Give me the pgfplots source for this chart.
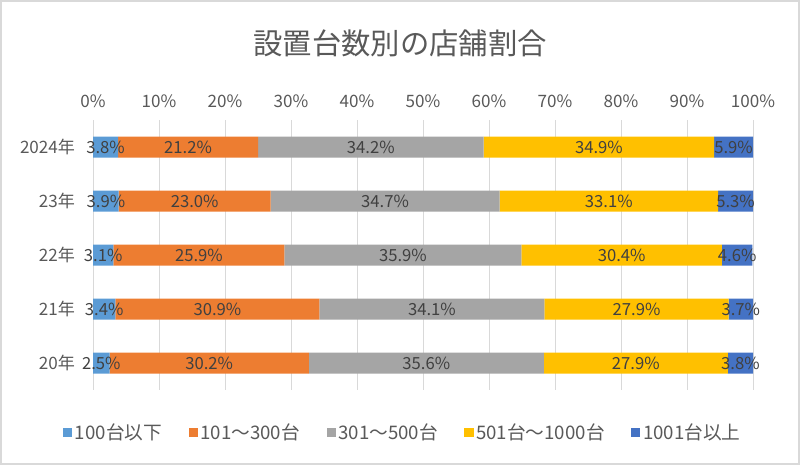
\documentclass[border=0pt]{standalone}
\usepackage{pgfplots}
\usepackage{pgfplotstable}
\pgfplotsset{compat=1.18}
\usepackage{fontspec}
\setmainfont{Noto Sans CJK JP}
\definecolor{c1}{HTML}{5B9BD5}
\definecolor{c2}{HTML}{ED7D31}
\definecolor{c3}{HTML}{A5A5A5}
\definecolor{c4}{HTML}{FFC000}
\definecolor{c5}{HTML}{4472C4}
\definecolor{gridc}{HTML}{D9D9D9}
\definecolor{txt}{HTML}{595959}
\definecolor{lab}{HTML}{404040}
\pgfplotstableread{
y a b c d e
0 3.8 21.2 34.2 34.9 5.9
1 3.9 23.0 34.7 33.1 5.3
2 3.1 25.9 35.9 30.4 4.6
3 3.4 30.9 34.1 27.9 3.7
4 2.5 30.2 35.6 27.9 3.8
}\datatable
\begin{document}
\begin{tikzpicture}
\path (0,0) rectangle (600pt,348.75pt);
\draw[gridc, line width=1.5pt] (0.75pt,0.75pt) rectangle (599.25pt,348pt);
\node[txt, font=\fontsize{22}{26}\selectfont] at (300pt,316.5pt) {設置台数別の店舗割合};
\begin{axis}[
  at={(69.75pt,56.25pt)}, anchor=south west,
  scale only axis, width=495pt, height=202.5pt,
  xbar stacked, bar width=15.75pt, bar shift=0pt,
  xmin=0, xmax=100, ymin=-0.5, ymax=4.5, y dir=reverse,
  xtick={0,10,...,100},
  xticklabels={0\%,10\%,20\%,30\%,40\%,50\%,60\%,70\%,80\%,90\%,100\%},
  xticklabel pos=top,
  ytick={0,1,2,3,4},
  yticklabels={2024年,23年,22年,21年,20年},
  axis line style={draw=none},
  major tick length=0pt,
  xmajorgrids, grid style={gridc, line width=0.75pt},
  tick label style={txt, font=\fontsize{12.8}{15}\selectfont},
  yticklabel style={xshift=-10pt},
  xticklabel style={yshift=6pt},
  /pgf/number format/assume math mode=true,
  legend columns=5,
  legend style={at={(0.47,-0.156)}, anchor=center, draw=none, fill=none,
    font=\fontsize{14}{16}\selectfont, text=txt,
    /tikz/every even column/.append style={column sep=18pt}},
  legend image code/.code={\fill (0pt,-3.4pt) rectangle (6.8pt,3.4pt);},
]
\addplot[fill=c1, draw=none] table[x=a, y=y] {\datatable};
\addlegendentry{100台以下}
\addplot[fill=c2, draw=none] table[x=b, y=y] {\datatable};
\addlegendentry{101～300台}
\addplot[fill=c3, draw=none] table[x=c, y=y] {\datatable};
\addlegendentry{301～500台}
\addplot[fill=c4, draw=none] table[x=d, y=y] {\datatable};
\addlegendentry{501台～1000台}
\addplot[fill=c5, draw=none] table[x=e, y=y] {\datatable};
\addlegendentry{1001台以上}
\end{axis}
\begin{axis}[
  at={(69.75pt,56.25pt)}, anchor=south west,
  scale only axis, width=495pt, height=202.5pt,
  xmin=0, xmax=100, ymin=-0.5, ymax=4.5, y dir=reverse,
  hide axis, clip=false,
  /pgf/number format/assume math mode=true,
  nodes near coords={\pgfmathprintnumber[fixed,fixed zerofill,precision=1]{\pgfplotspointmeta}\%},
  every node near coord/.style={anchor=center, text=lab, font=\fontsize{12.5}{15}\selectfont},
  point meta=explicit,
]
\addplot[draw=none, mark=none] table[x expr=\thisrow{a}/2, y=y, meta=a] {\datatable};
\addplot[draw=none, mark=none] table[x expr=\thisrow{a}+\thisrow{b}/2, y=y, meta=b] {\datatable};
\addplot[draw=none, mark=none] table[x expr=\thisrow{a}+\thisrow{b}+\thisrow{c}/2, y=y, meta=c] {\datatable};
\addplot[draw=none, mark=none] table[x expr=\thisrow{a}+\thisrow{b}+\thisrow{c}+\thisrow{d}/2, y=y, meta=d] {\datatable};
\addplot[draw=none, mark=none] table[x expr=\thisrow{a}+\thisrow{b}+\thisrow{c}+\thisrow{d}+\thisrow{e}/2, y=y, meta=e] {\datatable};
\end{axis}
\end{tikzpicture}
\end{document}
